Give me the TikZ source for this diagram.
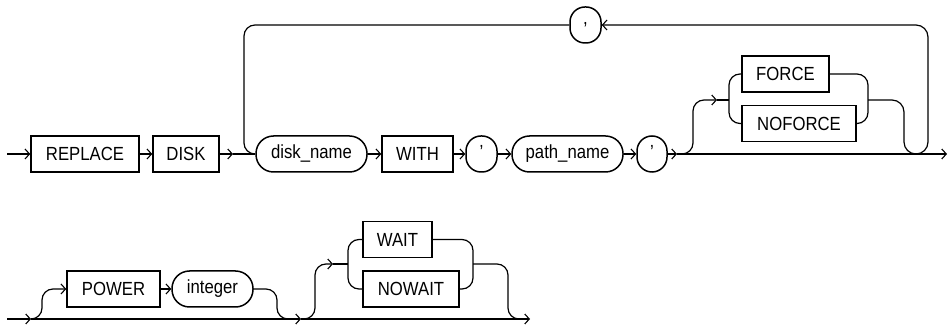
\documentclass[tikz,border=0pt]{standalone}
\usepackage{fontspec}
\setmainfont[FakeStretch=0.88]{Liberation Sans}
\usetikzlibrary{arrows.meta}
\begin{document}
\begin{tikzpicture}[x=1pt,y=-1pt,
  kw/.style={draw, line width=1.5pt, rectangle, minimum height=36pt, inner sep=0pt, font=\fontsize{19}{22}\selectfont},
  var/.style={kw, rounded corners=17.5pt},
  qt/.style={kw, rounded corners=15pt, minimum width=31pt},
  ln/.style={line width=1.2pt},
  arr/.style={ln, -{Straight Barb[length=4.5pt,width=10pt,line width=1.1pt]}},
  rc/.style={ln, rounded corners=11pt}
]
\useasboundingbox (0,0) rectangle (948,328);
% ---------- row 1 ----------
\node[kw, minimum width=108pt] (replace) at (85,154) {REPLACE};
\node[kw, minimum width=66pt] (disk) at (186,154) {DISK};
\node[var, minimum width=111pt] (dname) at (311.5,154) {disk\_name};
\node[kw, minimum width=71pt] (with) at (417.5,154) {WITH};
\node[qt] (q1) at (481.5,154) {\raisebox{5pt}{'}};
\node[var, minimum width=111pt] (pname) at (567.5,154) {path\_name};
\node[qt, minimum width=30pt] (q2) at (652,154) {\raisebox{5pt}{'}};
\node[kw, minimum width=87pt] (force) at (785.5,74) {FORCE};
\node[kw, minimum width=114pt] (noforce) at (799,123.5) {NOFORCE};
\node[qt] (comma) at (585.5,25) {\raisebox{-2pt}{,}};

\coordinate (s1) at (7,154);
\coordinate (j1) at (233,154);
\coordinate (j2) at (677,154);
\coordinate (e1) at (947,154);
\coordinate (fa) at (717,100);
\coordinate (fl) at (729,100);
\coordinate (fr) at (868,100);

\draw[arr] (s1) -- (replace.west);
\draw[arr] (replace.east) -- (disk.west);
\draw[arr] (disk.east) -- (j1);
\draw[ln] (j1) -- (dname.west);
\draw[arr] (dname.east) -- (with.west);
\draw[arr] (with.east) -- (q1.west);
\draw[arr] (q1.east) -- (pname.west);
\draw[arr] (pname.east) -- (q2.west);
\draw[arr] (q2.east) -- (j2);
\draw[arr] (j2) -- (e1);
% repeat loop
\draw[rc] (comma.west) -- (244,25) -- (244,154) -- (dname.west);
% optional FORCE / NOFORCE
\draw[arr, rounded corners=11pt] (j2) -- (693,154) -- (693,100) -- (fa);
\draw[ln] (fa) -- (fl);
\draw[rc] (force.west) -- (729,74) -- (729,123.5) -- (noforce.west);
\draw[rc] (force.east) -- (868,74) -- (868,123.5) -- (noforce.east);
\draw[arr, rounded corners=12pt] (fr) -- (904,100) -- (904,154) -- (928,154) -- (928,25) -- (comma.east);

% ---------- row 2 ----------
\node[kw, minimum width=93pt] (power) at (113.5,289) {POWER};
\node[var, minimum width=81pt] (int) at (212.5,289) {integer};
\node[kw, minimum width=69pt] (wait) at (397.5,239.5) {WAIT};
\node[kw, minimum width=96pt] (nowait) at (411,289) {NOWAIT};

\coordinate (s2) at (7,319);
\coordinate (p1) at (31,319);
\coordinate (p2) at (301,319);
\coordinate (e2) at (530,319);
\coordinate (wa) at (333,264);
\coordinate (wl) at (348,264);
\coordinate (wr) at (473,264);

\draw[arr] (s2) -- (p1);
\draw[arr] (p1) -- (p2);
\draw[arr] (p2) -- (e2);
\draw[arr, rounded corners=11pt] (p1) -- (42,319) -- (42,289) -- (power.west);
\draw[arr] (power.east) -- (int.west);
\draw[rc] (int.east) -- (277,289) -- (277,319) -- (292,319);
\draw[arr, rounded corners=11pt] (p2) -- (315,319) -- (315,264) -- (wa);
\draw[ln] (wa) -- (wl);
\draw[rc] (wait.west) -- (348,239.5) -- (348,289) -- (nowait.west);
\draw[rc] (wait.east) -- (473,239.5) -- (473,289) -- (nowait.east);
\draw[rc] (wr) -- (508,264) -- (508,319) -- (522,319);
\end{tikzpicture}
\end{document}
